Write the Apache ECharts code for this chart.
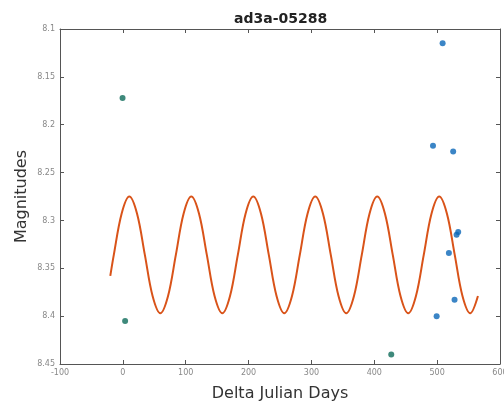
<!DOCTYPE html>
<html>
<head>
<meta charset="utf-8">
<script src="https://cdn.jsdelivr.net/npm/echarts@6/dist/echarts.min.js"></script>
<style>
  html, body { margin: 0; padding: 0; background: #fff; overflow: hidden; }
  #chart { width: 504px; height: 403px; }
</style>
</head>
<body>
<div id="chart"></div>
<script>
// Observations: Delta Julian Days vs magnitude
const obsBlueDays = [508.7, 493.4, 525.5, 533.5, 530.9, 518.7, 527.7, 499.2];
const obsBlueMags = [8.115, 8.222, 8.228, 8.312, 8.315, 8.334, 8.383, 8.400];
const obsTealDays = [-0.5, 3.6, 427.0];
const obsTealMags = [8.172, 8.405, 8.440];

// Periodic model curve, sampled along the drawn fit
const fitDays = [-20.0, -14.4, -2.0, 10.3, 22.6, 35.0, 47.3, 59.6, 71.9, 84.3, 96.6,
  108.9, 121.2, 133.6, 145.9, 158.2, 170.5, 182.9, 195.2, 207.5, 219.8, 232.2, 244.5,
  256.8, 269.1, 281.5, 293.8, 306.1, 318.4, 330.8, 343.1, 355.4, 367.7, 380.1, 392.4,
  404.7, 417.0, 429.4, 441.7, 454.0, 466.3, 478.7, 491.0, 503.3, 515.6, 528.0, 540.3,
  552.6, 564.9];
const fitMags = [8.358, 8.336, 8.293, 8.275, 8.293, 8.336, 8.379, 8.397, 8.379, 8.336, 8.293,
  8.275, 8.293, 8.336, 8.379, 8.397, 8.379, 8.336, 8.293,
  8.275, 8.293, 8.336, 8.379, 8.397, 8.379, 8.336, 8.293,
  8.275, 8.293, 8.336, 8.379, 8.397, 8.379, 8.336, 8.293,
  8.275, 8.293, 8.336, 8.379, 8.397, 8.379, 8.336, 8.293,
  8.275, 8.293, 8.336, 8.379, 8.397, 8.379];

const xTicks = { min: -100, max: 600, interval: 100 };
const yTicks = { min: 8.1, max: 8.45, interval: 0.05 };

const pairs = (xs, ys) => xs.map((x, i) => [x, ys[i]]);

const axisLine = { show: true, onZero: false, lineStyle: { color: '#555', width: 1 } };
const axisTick = { show: true, inside: true, length: 4, lineStyle: { color: '#555' } };
const labelStyle = { color: '#888', fontSize: 8, fontFamily: 'DejaVu Sans' };

const chart = echarts.init(document.getElementById('chart'), null, { renderer: 'canvas', width: 504, height: 403 });
chart.setOption({
  backgroundColor: '#fff',
  animation: false,
  title: {
    text: 'ad3a-05288',
    left: 229, top: 7,
    textStyle: { fontSize: 14, fontWeight: 'bold', color: '#222', fontFamily: 'DejaVu Sans' }
  },
  grid: { left: 60, right: 4, top: 29, bottom: 39, outerBoundsMode: 'none', containLabel: false },
  xAxis: [{
    type: 'value', min: xTicks.min, max: xTicks.max, interval: xTicks.interval,
    name: 'Delta Julian Days', nameLocation: 'middle', nameGap: 22, nameMoveOverlap: false,
    nameTextStyle: { fontSize: 16, color: '#333', fontFamily: 'DejaVu Sans' },
    axisLine, axisTick, splitLine: { show: false },
    axisLabel: Object.assign({ margin: 5 }, labelStyle)
  }, {
    type: 'value', position: 'top', min: xTicks.min, max: xTicks.max, interval: xTicks.interval,
    axisLine, axisTick, splitLine: { show: false }, axisLabel: { show: false }
  }],
  yAxis: [{
    type: 'value', inverse: true, min: yTicks.min, max: yTicks.max, interval: yTicks.interval,
    name: 'Magnitudes', nameLocation: 'middle', nameGap: 30, nameMoveOverlap: false,
    nameTextStyle: { fontSize: 16, color: '#333', fontFamily: 'DejaVu Sans' },
    axisLine, axisTick, splitLine: { show: false },
    axisLabel: Object.assign({ margin: 5, formatter: v => String(parseFloat(v.toFixed(2))) }, labelStyle)
  }, {
    type: 'value', position: 'right', inverse: true, min: yTicks.min, max: yTicks.max, interval: yTicks.interval,
    axisLine, axisTick, splitLine: { show: false }, axisLabel: { show: false }
  }],
  series: [{
    type: 'line', data: pairs(fitDays, fitMags), smooth: 0.35, showSymbol: false,
    lineStyle: { color: '#d95319', width: 2 }, z: 2
  }, {
    type: 'scatter', data: pairs(obsBlueDays, obsBlueMags), symbolSize: 6,
    itemStyle: { color: '#0a66b8' }, z: 3
  }, {
    type: 'scatter', data: pairs(obsTealDays, obsTealMags), symbolSize: 6,
    itemStyle: { color: '#0e6b5a' }, z: 3
  }]
});
</script>
</body>
</html>
